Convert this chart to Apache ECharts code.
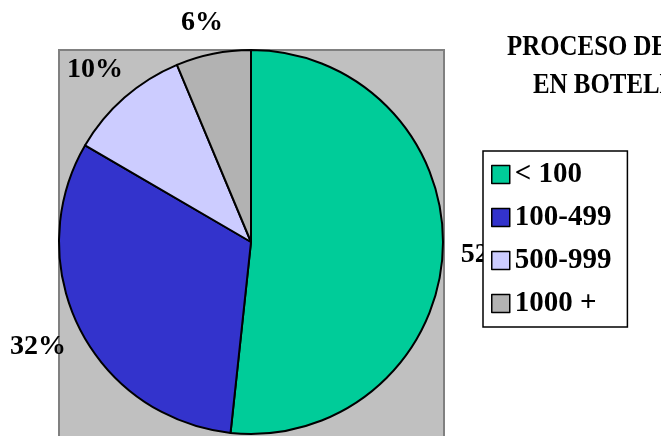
<!DOCTYPE html>
<html>
<head>
<meta charset="utf-8">
<script src="https://cdn.jsdelivr.net/npm/echarts@6/dist/echarts.min.js"></script>
<style>
  html, body { margin: 0; padding: 0; background: #fff; }
  #chart { width: 661px; height: 436px; }
</style>
</head>
<body>
<div id="chart"></div>
<script>
// Bottle size classes and their share of units (percent).
const CATEGORIES = ["< 100", "100-499", "500-999", "1000 +"];
const SHARES = [51.7, 31.7, 10.3, 6.3];
const TITLE_LINES = ["PROCESO DE LLENADO", "EN BOTELLAS"];

// Old office-chart palette, pinned so slices and legend swatches agree.
const PALETTE = ["#00cc99", "#3333cc", "#ccccff", "#b2b2b2"];

const SERIF = "'Liberation Serif', 'Times New Roman', serif";

// The original title is a squeezed bold serif; scaleX fakes the condensed face.
function titleLine(text, x, y) {
  return {
    type: "text",
    x, y,
    scaleX: 0.83,
    style: {
      text,
      fill: "#000",
      font: `bold 30px ${SERIF}`,
      textAlign: "left",
      textVerticalAlign: "middle",
    },
  };
}

// Labels are centred a little way past the rim. The narrow top slices sit
// closer in because the label box is short vertically.
function labelReach(i) {
  if (i === 3) return 32;
  if (i === 2) return 37;
  return 41;
}

const chart = echarts.init(document.getElementById("chart"));

chart.setOption({
  animation: false,
  color: PALETTE,
  graphic: [
    // grey plot area behind the pie
    {
      type: "rect",
      z: -1,
      shape: { x: 59, y: 50, width: 385, height: 400 },
      style: { fill: "#c0c0c0", stroke: "#808080", lineWidth: 2 },
    },
    titleLine(TITLE_LINES[0], 507, 47),
    titleLine(TITLE_LINES[1], 533, 85),
  ],
  legend: {
    orient: "vertical",
    left: 483,
    top: 151,
    padding: [9, 16, 9, 8],
    itemGap: 14,
    itemWidth: 18,
    itemHeight: 18,
    icon: "rect",
    borderColor: "#000",
    borderWidth: 1.5,
    backgroundColor: "#fff",
    itemStyle: { borderColor: "#000", borderWidth: 1.5 },
    textStyle: { fontFamily: SERIF, fontWeight: "bold", fontSize: 29, color: "#000" },
    data: CATEGORIES,
  },
  series: [{
    type: "pie",
    center: [251, 242],
    radius: 192,
    startAngle: 90,
    clockwise: true,
    avoidLabelOverlap: false,
    itemStyle: { borderColor: "#000", borderWidth: 2 },
    label: {
      show: true,
      position: "outside",
      formatter: (p) => Math.round(p.value) + "%",
      fontFamily: SERIF,
      fontWeight: "bold",
      fontSize: 28,
      color: "#000",
    },
    labelLine: { show: false, length: 41, length2: 0 },
    labelLayout: { align: "center", verticalAlign: "middle" },
    emphasis: { disabled: true },
    data: CATEGORIES.map((name, i) => ({
      name,
      value: SHARES[i],
      labelLine: { length: labelReach(i) },
    })),
  }],
});
</script>
</body>
</html>
